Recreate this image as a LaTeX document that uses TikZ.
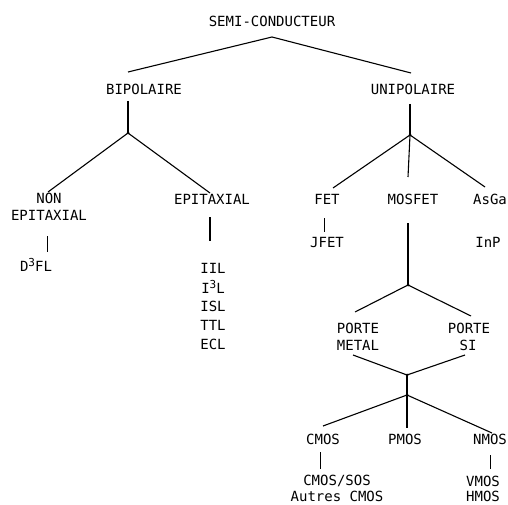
\documentclass[tikz,border=0pt]{standalone}
\usepackage{fontspec}
\setmonofont{DejaVu Sans Mono}
\begin{document}
\begin{tikzpicture}[x=1pt,y=-1pt,
  lbl/.style={font=\ttfamily\fontsize{14}{14}\selectfont, inner sep=0pt, align=center},
  ln/.style={line width=1.1pt},
  thinln/.style={line width=0.9pt},
  dotj/.style={fill, circle, inner sep=0pt, minimum size=3pt}]
\useasboundingbox (0,0) rectangle (508,505);
\newcommand{\supthree}{\raisebox{0.75ex}{\fontsize{11}{11}\selectfont 3}}
% labels
\node[lbl] (semi) at (272,21) {SEMI-CONDUCTEUR};
\node[lbl] (bip) at (144,89) {BIPOLAIRE};
\node[lbl] (uni) at (413,89) {UNIPOLAIRE};
\node[lbl] (non) at (49,198) {NON};
\node[lbl] (nonepi) at (49,215) {EPITAXIAL};
\node[lbl] (d3fl) at (36,265) {D\supthree FL};
\node[lbl] (epi) at (212,199) {EPITAXIAL};
\node[lbl] (iil) at (213,268) {IIL};
\node[lbl] (i3l) at (213,287) {I\supthree L};
\node[lbl] (isl) at (213,306) {ISL};
\node[lbl] (ttl) at (213,325) {TTL};
\node[lbl] (ecl) at (213,344) {ECL};
\node[lbl] (fet) at (327,199) {FET};
\node[lbl] (mosfet) at (413,199) {MOSFET};
\node[lbl] (asga) at (490,199) {AsGa};
\node[lbl] (jfet) at (327,242) {JFET};
\node[lbl] (inp) at (488,242) {InP};
\node[lbl] (portem) at (358,328) {PORTE};
\node[lbl] (metal) at (358,345) {METAL};
\node[lbl] (portes) at (469,328) {PORTE};
\node[lbl] (si) at (468,345) {SI};
\node[lbl] (cmos) at (323,439) {CMOS};
\node[lbl] (pmos) at (405,439) {PMOS};
\node[lbl] (nmos) at (490,439) {NMOS};
\node[lbl] (cmossos) at (337,481) {CMOS/SOS};
\node[lbl] (autres) at (337,496) {Autres CMOS};
\node[lbl] (vmos) at (483,481) {VMOS};
\node[lbl] (hmos) at (483,496) {HMOS};
% coordinates
\coordinate (top) at (272,37);
\coordinate (topL) at (128,72);
\coordinate (topR) at (411,73);
\coordinate (bipT) at (128,101);
\coordinate (jb) at (128,133);
\coordinate (jbL) at (48,192);
\coordinate (jbR) at (210,193);
\coordinate (uniT) at (410,104);
\coordinate (ju) at (410,135);
\coordinate (juL) at (333,188);
\coordinate (juM) at (408,177);
\coordinate (juR) at (485,187);
\coordinate (neA) at (47,236);
\coordinate (neB) at (47,252);
\coordinate (epA) at (210,217);
\coordinate (epB) at (210,241);
\coordinate (feA) at (324,218);
\coordinate (feB) at (324,232);
\coordinate (moA) at (408,223);
\coordinate (jm) at (408,285);
\coordinate (jmL) at (355,312);
\coordinate (jmR) at (471,316);
\coordinate (meB) at (353,355);
\coordinate (siB) at (465,355);
\coordinate (jp) at (407,375);
\coordinate (jc) at (407,395);
\coordinate (jcL) at (323,426);
\coordinate (jcM) at (407,428);
\coordinate (jcR) at (492,433);
\coordinate (cmA) at (320,452);
\coordinate (cmB) at (320,469);
\coordinate (nmA) at (490,455);
\coordinate (nmB) at (490,469);
% connectors
\draw[ln] (topL) -- (top) -- (topR);
\draw[ln] (bipT) -- (jb);
\draw[ln] (jbL) -- (jb) -- (jbR);
\draw[ln] (uniT) -- (ju);
\draw[ln] (juL) -- (ju) -- (juR);
\draw[ln] (ju) -- (juM);
\draw[thinln] (neA) -- (neB);
\draw[ln] (epA) -- (epB);
\draw[thinln] (feA) -- (feB);
\draw[ln] (moA) -- (jm);
\draw[ln] (jmL) -- (jm) -- (jmR);
\draw[ln] (meB) -- (jp) -- (siB);
\draw[ln] (jp) -- (jc);
\draw[ln] (jcL) -- (jc) -- (jcR);
\draw[ln] (jc) -- (jcM);
\draw[thinln] (cmA) -- (cmB);
\draw[thinln] (nmA) -- (nmB);
\node[dotj] at (jb) {};
\node[dotj] at (ju) {};
\node[dotj] at (jm) {};
\node[dotj] at (jp) {};
\node[dotj] at (jc) {};
\end{tikzpicture}
\end{document}
